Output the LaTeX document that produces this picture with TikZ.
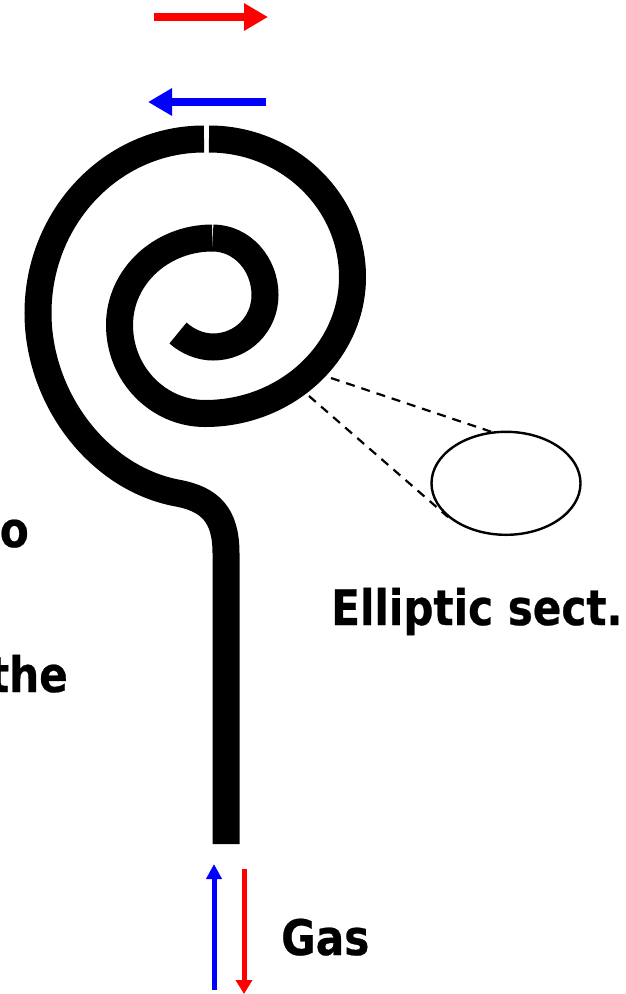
\documentclass[tikz,border=0pt]{standalone}
\usepackage{fontspec}
\setmainfont[FakeStretch=0.86,BoldFeatures={FakeBold=0.5}]{DejaVu Sans}
\usetikzlibrary{arrows.meta,shapes.geometric}
\tikzset{
  tube/.style={line width=27pt,line cap=butt,black},
  bigred/.style={draw=red,line width=8pt,-{Triangle[length=24pt,width=26pt]}},
  bigblue/.style={draw=blue,line width=8pt,-{Triangle[length=24pt,width=26pt]}},
  thinred/.style={draw=red,line width=5pt,-{Triangle[length=14pt,width=16pt]}},
  thinblue/.style={draw=blue,line width=5pt,-{Triangle[length=15pt,width=15pt]}},
  leader/.style={line width=2.2pt,dash pattern=on 9pt off 7pt},
  label/.style={font=\fontsize{49pt}{54pt}\selectfont\bfseries,inner sep=0pt,text=black}
}
\begin{document}
\begin{tikzpicture}[x=1pt,y=-1pt]
\useasboundingbox (0,0) rectangle (626,994);
% tube
\draw[tube] (209,139) .. controls (288,139) and (352.5,201) .. (352.5,277)
  .. controls (352.5,352) and (286.5,413.5) .. (205,413.5)
  .. controls (158,413.5) and (119.5,374) .. (119.5,325)
  .. controls (119.5,277) and (161,238) .. (212.3,238);
\draw[tube] (212.7,238) .. controls (242,238) and (265,264) .. (265,295)
  .. controls (265,324) and (242,347) .. (213,347)
  .. controls (201,347) and (188,342) .. (178,333);
\draw[tube] (204,139) .. controls (112,139) and (38,217) .. (38,313)
  .. controls (38,398) and (98,478) .. (177,493)
  .. controls (210,499) and (226,515) .. (226,553) -- (226,844);
% section
\node[draw,line width=2.4pt,ellipse,minimum width=149pt,minimum height=103pt,inner sep=0pt] (sect) at (506,483.3) {};
\coordinate (a1) at (331,378);
\coordinate (a2) at (492,432);
\coordinate (b1) at (309,396);
\coordinate (b2) at (448,517);
\draw[leader] (a1) -- (a2);
\draw[leader] (b1) -- (b2);
% arrows
\coordinate (r1) at (153.5,17); \coordinate (r2) at (268,17);
\coordinate (l1) at (266,102); \coordinate (l2) at (148,102);
\coordinate (u1) at (214,990); \coordinate (u2) at (214,864);
\coordinate (d1) at (244,869); \coordinate (d2) at (244,994);
\draw[bigred] (r1) -- (r2);
\draw[bigblue] (l1) -- (l2);
\draw[thinblue] (u1) -- (u2);
\draw[thinred] (d1) -- (d2);
% labels
\node[label,anchor=base east] (t1) at (29,547) {o};
\node[label,anchor=base east] (t2) at (68,692) {the};
\node[label,anchor=base west] (t3) at (331,625) {Elliptic sect.};
\node[label,anchor=base west] (t4) at (281,955) {Gas};
\end{tikzpicture}
\end{document}
